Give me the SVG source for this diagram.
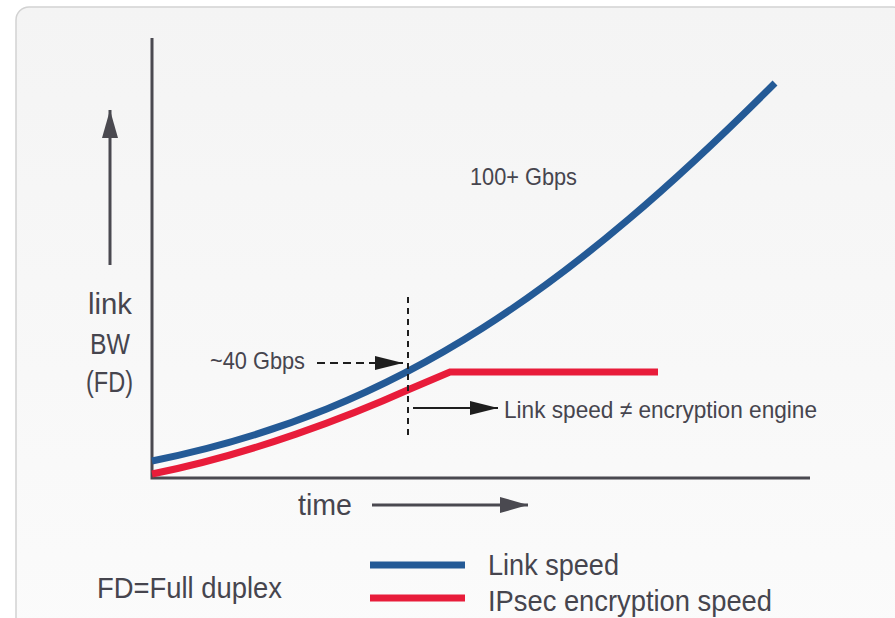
<svg xmlns="http://www.w3.org/2000/svg" width="895" height="618" viewBox="0 0 895 618">
  <defs>
    <linearGradient id="panelFill" x1="0" y1="0" x2="0" y2="1">
      <stop offset="0" stop-color="#f4f4f4"/>
      <stop offset="1" stop-color="#fbfbfb"/>
    </linearGradient>
    <marker id="headGray" viewBox="0 0 28 16" refX="28" refY="8" markerWidth="28" markerHeight="16" markerUnits="userSpaceOnUse" orient="auto">
      <path d="M0,0 L28,8 L0,16 Z" fill="#4a4950"/>
    </marker>
    <marker id="headBlack" viewBox="0 0 28 14" refX="28" refY="7" markerWidth="28" markerHeight="14" markerUnits="userSpaceOnUse" orient="auto">
      <path d="M0,0 L28,7 L0,14 Z" fill="#1e1e1e"/>
    </marker>
  </defs>
  <style>
    text { font-family: "Liberation Sans", Arial, sans-serif; fill: #46454e; }
    .lbl { font-size: 30px; }
    .leg { font-size: 30px; }
    .small { font-size: 24px; }
    .axis { stroke: #4a4950; stroke-width: 3; fill: none; }
    .blue { stroke: #245a96; stroke-width: 7; fill: none; }
    .red { stroke: #e81c3a; stroke-width: 7; fill: none; }
    .note { stroke: #1e1e1e; stroke-width: 2; fill: none; }
  </style>

  <!-- background panel -->
  <rect x="0" y="0" width="895" height="618" fill="#ffffff"/>
  <rect x="16" y="7" width="890" height="640" rx="13" fill="url(#panelFill)" stroke="#d2d2d2" stroke-width="1.5"/>

  <!-- axes -->
  <g id="axes">
    <path class="axis" d="M152,38 V478 H810"/>
  </g>

  <!-- y axis caption -->
  <g id="y-label">
    <line class="axis" x1="110" y1="265" x2="110" y2="110" marker-end="url(#headGray)"/>
    <text class="lbl" x="88" y="314" textLength="44" lengthAdjust="spacingAndGlyphs">link</text>
    <text class="lbl" x="90" y="354" textLength="40" lengthAdjust="spacingAndGlyphs">BW</text>
    <text class="lbl" x="86" y="392" textLength="47" lengthAdjust="spacingAndGlyphs">(FD)</text>
  </g>

  <!-- x axis caption -->
  <g id="x-label">
    <text class="lbl" x="298" y="515" textLength="54" lengthAdjust="spacingAndGlyphs">time</text>
    <line class="axis" x1="372" y1="505" x2="528" y2="505" stroke-width="2" marker-end="url(#headGray)"/>
  </g>

  <!-- data curves -->
  <g id="link-speed-curve">
    <path class="blue" d="M152,461 C402,411 575,283 775,83"/>
  </g>
  <g id="ipsec-speed-curve">
    <path class="red" d="M152,474 C252,454 350,416 410,389 L450,372 H658"/>
  </g>

  <g id="label-100g">
    <text class="small" x="470" y="185" textLength="107" lengthAdjust="spacingAndGlyphs">100+ Gbps</text>
  </g>

  <!-- annotations -->
  <g id="connectors">
    <line class="note" x1="408" y1="297" x2="408" y2="436" stroke-dasharray="6,5"/>
    <line class="note" x1="317" y1="363" x2="403" y2="363" stroke-dasharray="8,5" marker-end="url(#headBlack)"/>
    <line class="note" x1="413" y1="408" x2="498" y2="408" marker-end="url(#headBlack)"/>
  </g>
  <g id="label-40g">
    <text class="small" x="210" y="369" textLength="95" lengthAdjust="spacingAndGlyphs">~40 Gbps</text>
  </g>
  <g id="label-mismatch">
    <text class="small" x="504" y="418" textLength="313" lengthAdjust="spacingAndGlyphs">Link speed ≠ encryption engine</text>
  </g>

  <!-- footnote and legend -->
  <g id="footnote">
    <text class="lbl" x="97" y="598" textLength="185" lengthAdjust="spacingAndGlyphs">FD=Full duplex</text>
  </g>
  <g id="legend">
    <line class="blue" x1="370" y1="565" x2="465" y2="565" stroke-width="8"/>
    <line class="red" x1="370" y1="598" x2="465" y2="598" stroke-width="8"/>
    <text class="leg" x="488" y="575" textLength="131" lengthAdjust="spacingAndGlyphs">Link speed</text>
    <text class="leg" x="488" y="611" textLength="284" lengthAdjust="spacingAndGlyphs">IPsec encryption speed</text>
  </g>
</svg>
